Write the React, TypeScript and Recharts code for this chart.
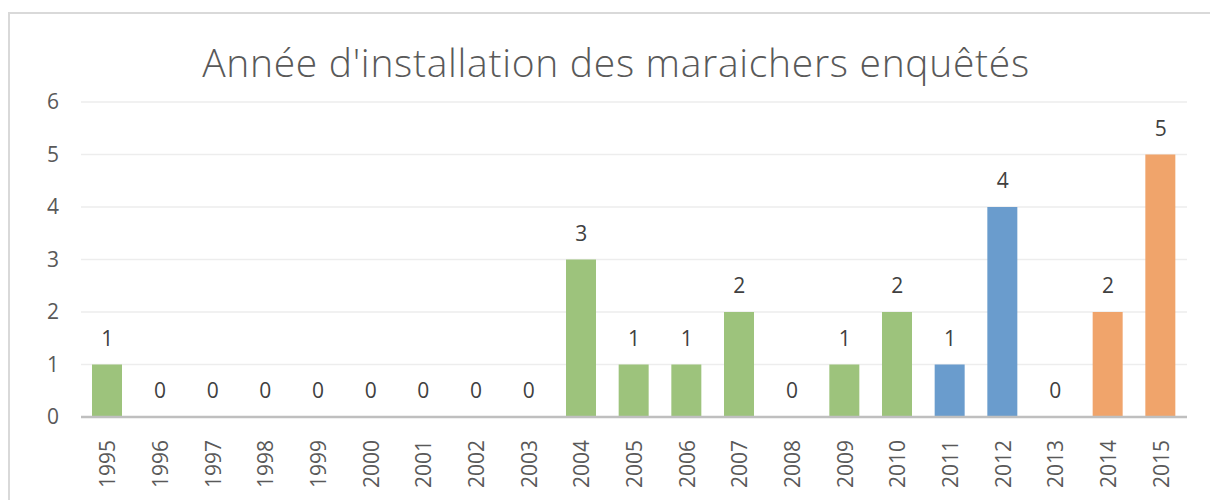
import { ComposedChart, Bar, Line, XAxis, YAxis, CartesianGrid, Cell, LabelList } from 'recharts';

const years = ['1995', '1996', '1997', '1998', '1999', '2000', '2001', '2002', '2003', '2004', '2005', '2006', '2007', '2008', '2009', '2010', '2011', '2012', '2013', '2014', '2015'];
const counts = [1, 0, 0, 0, 0, 0, 0, 0, 0, 3, 1, 1, 2, 0, 1, 2, 1, 4, 0, 2, 5];
const blueYears = ['2011', '2012'];
const orangeYears = ['2013', '2014', '2015'];
const yTicks = [0, 1, 2, 3, 4, 5, 6];

const title = "Année d'installation des maraichers enquêtés";

const data = years.map((year, i) => ({ year, count: counts[i] }));

const GREEN = '#9DC37C';
const BLUE = '#6A9CCD';
const ORANGE = '#F0A46B';
const FONT = '"Open Sans", sans-serif';

function colorFor(year: string) {
  if (blueYears.includes(year)) return BLUE;
  if (orangeYears.includes(year)) return ORANGE;
  return GREEN;
}

function YearTick(props: any) {
  const { x, y, payload } = props;
  return (
    <text
      x={0}
      y={0}
      transform={`translate(${x}, ${y + 15}) rotate(-90)`}
      textAnchor="end"
      dominantBaseline="central"
      fill="#595959"
      fontSize={21}
      fontFamily={FONT}
    >
      {payload.value}
    </text>
  );
}

// labels hang off an invisible line so the zero values get one too
function ValueLabel(props: any) {
  const { x, y, value } = props;
  return (
    <text
      x={x}
      y={y - 27}
      textAnchor="middle"
      dominantBaseline="central"
      fill="#404040"
      fontSize={21}
      fontFamily={FONT}
    >
      {value}
    </text>
  );
}

export default function App() {
  return (
    <div
      style={{
        position: 'relative',
        marginTop: 4,
        width: 1208,
        height: 486,
        borderTop: '2px solid #D9D9D9',
        borderLeft: '2px solid #D9D9D9',
        background: '#fff',
        overflow: 'hidden',
      }}
    >
      <div
        style={{
          position: 'absolute',
          top: 24,
          left: 0,
          width: 1212,
          textAlign: 'center',
          fontFamily: FONT,
          fontWeight: 300,
          fontSize: 39,
          letterSpacing: 0.7,
          color: '#595959',
          lineHeight: '48px',
        }}
      >
        {title}
      </div>
      <ComposedChart
        width={1208}
        height={486}
        data={data}
        margin={{ top: 88, right: 31, left: 21, bottom: 13 }}
        barSize={30}
      >
        <CartesianGrid vertical={false} stroke="#EDEDED" strokeWidth={1.5} />
        <XAxis
          dataKey="year"
          interval={0}
          height={70}
          axisLine={{ stroke: '#BFBFBF', strokeWidth: 2.5 }}
          tickLine={false}
          tick={<YearTick />}
        />
        <YAxis
          domain={[0, 6]}
          ticks={yTicks}
          width={50}
          axisLine={false}
          tickLine={false}
          tickSize={0}
          tickMargin={22}
          tick={{ fill: '#595959', fontSize: 21, fontFamily: FONT }}
        />
        <Bar dataKey="count" isAnimationActive={false}>
          {data.map((d) => (
            <Cell key={d.year} fill={colorFor(d.year)} />
          ))}
        </Bar>
        <Line
          dataKey="count"
          stroke="none"
          dot={false}
          activeDot={false}
          isAnimationActive={false}
        >
          <LabelList dataKey="count" content={<ValueLabel />} />
        </Line>
      </ComposedChart>
    </div>
  );
}
